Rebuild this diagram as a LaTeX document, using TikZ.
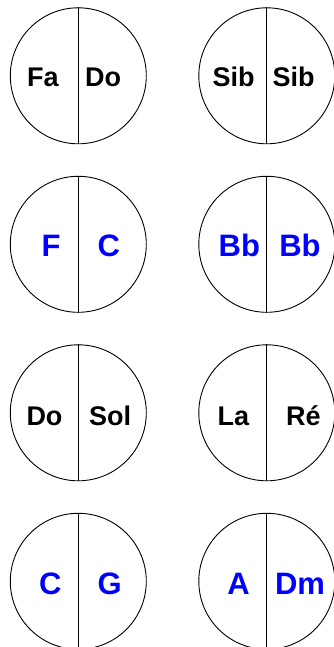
\documentclass[tikz,border=0pt]{standalone}
\usepackage{fontspec}
\setmainfont{Liberation Sans}
\begin{document}
\begin{tikzpicture}[x=1pt,y=-1pt,
  disc/.style={draw=black,line width=0.9pt,circle,minimum size=136pt,inner sep=0pt},
  divider/.style={draw=black,line width=0.9pt},
  blk/.style={anchor=base,inner sep=0pt,text=black,font=\fontsize{27}{27}\selectfont\bfseries},
  blu/.style={anchor=base,inner sep=0pt,text=blue,font=\fontsize{31}{31}\selectfont\bfseries}]
\useasboundingbox (0,0) rectangle (334,647);
% circles
\foreach \n/\x/\y in {a/78.3/75.8, b/266.8/75.8, c/78.3/244.3, d/266.8/244.3, e/78.3/412.8, f/266.8/412.8, g/78.3/581.3, h/266.8/581.3}{
  \node[disc] (\n) at (\x,\y) {};
  \draw[divider] (\n.north) -- (\n.south);
}
% row 1 (black)
\node[blk] (a1) at (42.8,86.7) {Fa};
\node[blk] (a2) at (103,86.7) {Do};
\node[blk] (b1) at (233.5,86.7) {Sib};
\node[blk] (b2) at (293.7,86.7) {Sib};
% row 2 (blue)
\node[blu] (c1) at (51,256.4) {F};
\node[blu] (c2) at (108.8,256.4) {C};
\node[blu] (d1) at (239.3,256.4) {Bb};
\node[blu] (d2) at (300,256.4) {Bb};
% row 3 (black)
\node[blk] (e1) at (44.5,425.7) {Do};
\node[blk] (e2) at (110.2,425.7) {Sol};
\node[blk] (f1) at (233.3,425.7) {La};
\node[blk] (f2) at (303.3,425.7) {Ré};
% row 4 (blue)
\node[blu] (g1) at (50.3,594.9) {C};
\node[blu] (g2) at (109.8,594.9) {G};
\node[blu] (h1) at (238.5,594.9) {A};
\node[blu] (h2) at (300,594.9) {Dm};
\end{tikzpicture}
\end{document}
